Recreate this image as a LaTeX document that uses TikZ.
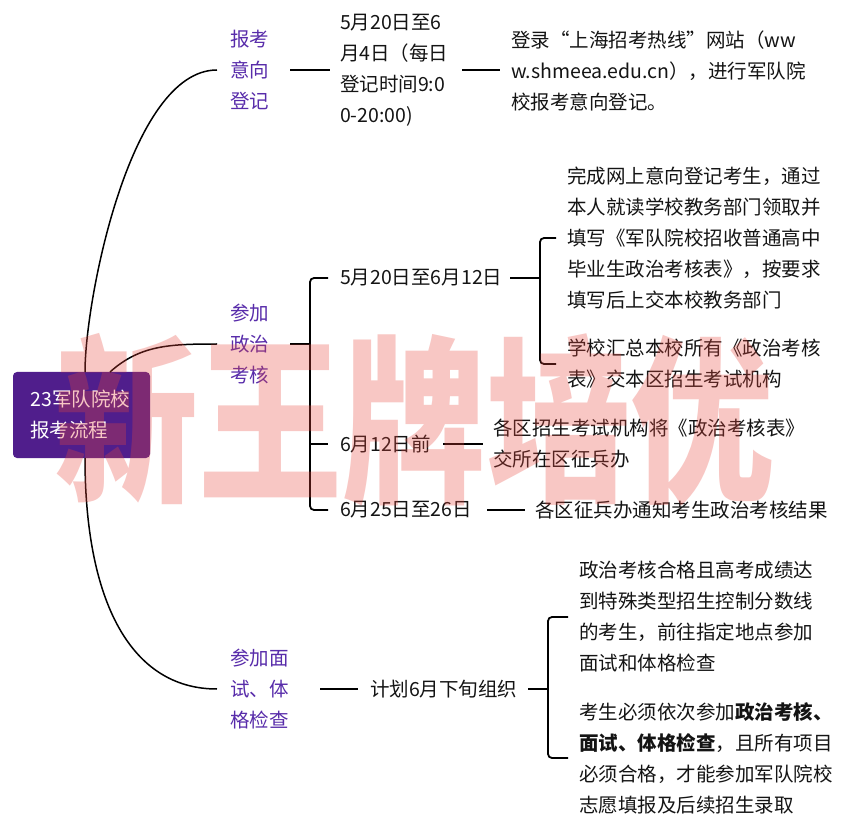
\documentclass[tikz,border=0pt]{standalone}
\usepackage{fontspec}
\setmainfont{Noto Sans CJK SC}
\usetikzlibrary{calc}
\definecolor{rootpurple}{RGB}{80,30,140}
\definecolor{lvone}{RGB}{88,44,170}
\definecolor{txt}{RGB}{20,20,20}
\definecolor{wmred}{RGB}{232,70,60}
\begin{document}
\begin{tikzpicture}[x=1pt,y=-1pt,
  every node/.style={inner sep=0pt, outer sep=0pt, font=\fontsize{19.5}{31}\selectfont, text=txt, align=left, anchor=west},
  lvl/.style={text=lvone},
  rootbox/.style={anchor=center, fill=rootpurple, text=white, rounded corners=4pt, minimum width=137pt, minimum height=86pt, text width=102pt},
  conn/.style={line width=1.8pt, draw=black},
  curv/.style={line width=1.5pt, draw=black},
  brk/.style={line width=1.8pt, draw=black, rounded corners=4pt},
  wm/.style={anchor=center, text=wmred, opacity=0.3, font=\fontsize{180}{180}\selectfont\bfseries}
]
\useasboundingbox (0,0) rectangle (849,826);
\fill[white] (0,0) rectangle (849,826);

% root
\node[rootbox] (root) at (81.5,415) {23军队院校\\报考流程};

% level one
\node[lvl] (L1a) at (230,70) {报考\\意向\\登记};
\node[lvl] (L1b) at (230,344) {参加\\政治\\考核};
\node[lvl] (L1c) at (230,689) {参加面\\试、体\\格检查};

% branch A
\node (A1) at (340,70) {5月20日至6\\月4日（每日\\登记时间9:0\\0-20:00)};
\node (A2) at (511,71) {登录“上海招考热线”网站（ww\\w.shmeea.edu.cn），进行军队院\\校报考意向登记。};

% branch B
\node (B1) at (340,278) {5月20日至6月12日};
\node (B11) at (567,238) {完成网上意向登记考生，通过\\本人就读学校教务部门领取并\\填写《军队院校招收普通高中\\毕业生政治考核表》，按要求\\填写后上交本校教务部门};
\node (B12) at (567,364) {学校汇总本校所有《政治考核\\表》交本区招生考试机构};
\node (B2) at (340,444) {6月12日前};
\node (B21) at (493,444) {各区招生考试机构将《政治考核表》\\交所在区征兵办};
\node (B3) at (340,510) {6月25日至26日};
\node (B31) at (535,510) {各区征兵办通知考生政治考核结果};

% branch C
\node (C1) at (370,689) {计划6月下旬组织};
\node (C11) at (579,617) {政治考核合格且高考成绩达\\到特殊类型招生控制分数线\\的考生，前往指定地点参加\\面试和体格检查};
\node (C12) at (579,758) {考生必须依次参加\textbf{政治考核、}\\\textbf{面试、体格检查}，且所有项目\\必须合格，才能参加军队院校\\志愿填报及后续招生录取};

% curves from root
\draw[curv] ($(root.north west)+(72,0)$) .. controls (85,300) and (130,70) .. ($(L1a.west)+(-13,0)$);
\draw[curv] ($(root.north west)+(97,0)$) .. controls (140,345) and (170,344) .. ($(L1b.west)+(-13,0)$);
\draw[curv] ($(root.south west)+(72,0)$) .. controls (85,600) and (130,689) .. ($(L1c.west)+(-13,0)$);

% A connectors
\draw[conn] ($(A1.west)+(-50,0)$) -- ($(A1.west)+(-10,0)$);
\draw[conn] ($(A2.west)+(-49,-1)$) -- ($(A2.west)+(-11,-1)$);

% B connectors
\coordinate (bkB) at (310,344);
\draw[conn] ($(L1b.west)+(60,0)$) -- (bkB);
\draw[brk] ($(B1.west)+(-12,0)$) -| (bkB) |- ($(B3.west)+(-12,0)$);
\draw[conn] (bkB |- B2.west) -- ($(B2.west)+(-12,0)$);

\coordinate (bkB1) at (540,300);
\draw[conn] ($(B1.west)+(170,0)$) -- (bkB1 |- B1.west);
\draw[brk] ($(B11.west)+(-11,0)$) -| (bkB1) |- ($(B12.west)+(-11,0)$);
\draw[conn] ($(B21.west)+(-50,0)$) -- ($(B21.west)+(-10,0)$);
\draw[conn] ($(B31.west)+(-48,0)$) -- ($(B31.west)+(-10,0)$);

% C connectors
\draw[conn] ($(C1.west)+(-50,0)$) -- ($(C1.west)+(-12,0)$);
\coordinate (bkC) at (548,689);
\draw[conn] ($(C1.west)+(158,0)$) -- (bkC);
\draw[brk] ($(C11.west)+(-11,0)$) -| (bkC) |- ($(C12.west)+(-11,0)$);

% watermark
\node[wm] (wm) at (415,420) {\scalebox{0.8}[1]{新王牌培优}};
\end{tikzpicture}
\end{document}
